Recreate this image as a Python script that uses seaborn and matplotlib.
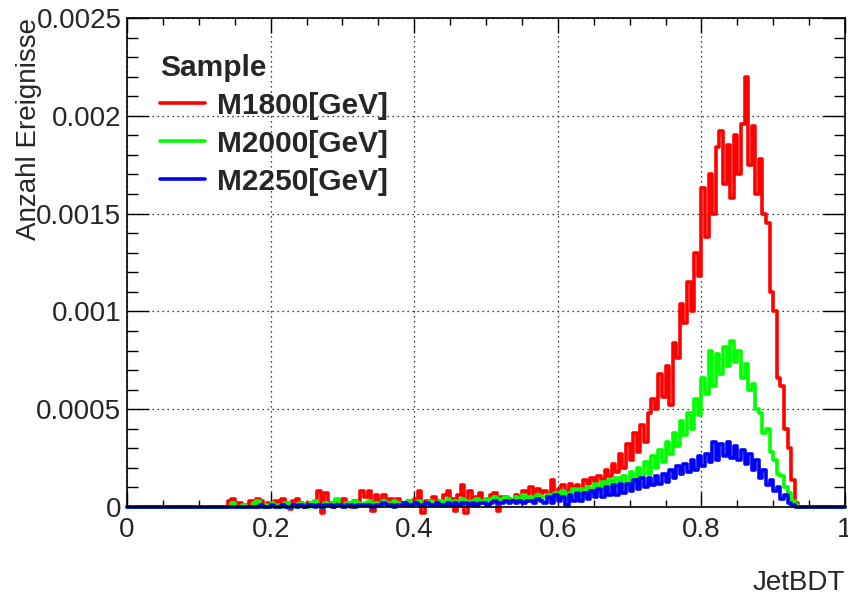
import numpy as np
import pandas as pd
import matplotlib
matplotlib.use("Agg")
import matplotlib.pyplot as plt
from matplotlib.ticker import MultipleLocator, FuncFormatter
import seaborn as sns

# JetBDT histogram, 200 bins from 0 to 1; values below in units of 1e-5
# only bins 0.13 .. 0.93 are filled, the rest are empty
n_bins = 200
first_bin = 26

m1800 = [
    0, 0, 3, 4, 0, 2, 0, 1, 3, 0,
    4, 3, 0, 2, 1, 3, 0, 4, 2, -1,
    3, 4, 2, 0, 2, 1, 3, 8, -3, 7,
    2, 0, 3, 1, 4, 2, 0, 3, 1, 8,
    5, 8, -2, 6, 3, 6, 2, 4, 3, 4,
    2, 1, 3, 2, 4, 8, -3, 3, 2, 5,
    3, 2, 6, 8, 4, -2, 6, 11, -3, 8,
    3, 5, 7, 2, 4, 6, 7, -2, 5, 5,
    4, 3, 6, 5, 8, 4, 10, 6, 9, 7,
    8, 5, 14, 7, 9, 11, 8, 12, 10, 11,
    9, 14, 12, 15, 13, 16, 14, 19, 16, 22,
    18, 27, 20, 32, 24, 38, 28, 42, 33, 48,
    55, 50, 68, 56, 72, 52, 84, 76, 104, 94,
    115, 100, 130, 118, 163, 138, 170, 150, 184, 192,
    165, 185, 158, 190, 170, 196, 220, 175, 195, 160,
    178, 150, 145, 110, 100, 66, 62, 40, 30, 14,
    2,
]

m2000 = [
    0, 0, 0, 2, 0, 0, 1, 0, 0, 2,
    3, 0, 1, 0, 2, 0, 1, 0, 2, 0,
    1, 0, 2, 1, 0, 2, 3, 1, 0, 2,
    1, 2, 4, 1, 0, 2, 1, 3, 2, 1,
    2, 3, 1, 2, 1, 3, 2, 1, 3, 2,
    1, 2, 3, 1, 2, 3, 1, 2, 3, 2,
    2, 3, 2, 4, 2, 3, 2, 4, 3, 2,
    3, 4, 2, 3, 4, 3, 5, 3, 4, 5,
    4, 3, 5, 4, 6, 3, 5, 4, 6, 5,
    5, 6, 4, 7, 5, 8, 4, 7, 9, 5,
    9, 5, 10, 7, 12, 8, 13, 9, 14, 10,
    15, 10, 16, 12, 18, 13, 20, 15, 23, 17,
    26, 20, 29, 23, 33, 27, 38, 31, 44, 37,
    48, 40, 55, 47, 66, 58, 80, 62, 78, 68,
    82, 72, 85, 74, 80, 66, 73, 60, 63, 50,
    48, 38, 40, 28, 24, 17, 16, 10, 7, 3,
    1,
]

m2250 = [
    0, 0, 0, 0, 0, 0, 0, 0, 0, 0,
    0, 1, 0, 0, 1, 0, 0, 1, 0, 0,
    1, 0, 1, 0, 1, 1, 0, 1, 0, 1,
    1, 0, 1, 1, 0, 1, 1, 0, 1, 1,
    1, 1, 0, 1, 1, 2, 1, 1, 0, 1,
    1, 2, 1, 1, 2, 1, 1, 2, 1, 1,
    2, 1, 1, 2, 1, 2, 1, 2, 2, 1,
    2, 1, 2, 2, 1, 2, 3, 2, 2, 3,
    2, 3, 2, 3, 2, 3, 3, 2, 4, 3,
    2, 5, 2, 6, 3, 5, 1, 6, 3, 7,
    3, 7, 4, 8, 5, 9, 5, 10, 6, 11,
    6, 12, 7, 12, 8, 14, 9, 15, 10, 15,
    11, 16, 12, 17, 13, 19, 15, 21, 17, 22,
    18, 24, 19, 26, 21, 27, 23, 33, 24, 32,
    26, 33, 25, 31, 24, 29, 22, 27, 19, 24,
    15, 19, 11, 14, 8, 10, 4, 6, 2, 1,
    0,
]

samples = ["M1800[GeV]", "M2000[GeV]", "M2250[GeV]"]
colors = ["#ff0000", "#00ff00", "#0000ff"]

edges = np.linspace(0, 1, n_bins + 1)

frames = []
for name, vals in zip(samples, [m1800, m2000, m2250]):
    h = np.zeros(n_bins)
    h[first_bin:first_bin + len(vals)] = np.array(vals) * 1e-5
    y = np.append(h, h[-1])
    frames.append(pd.DataFrame({"JetBDT": edges, "Anzahl": y, "Sample": name}))
df = pd.concat(frames, ignore_index=True)

sns.set_style("ticks")
plt.rcParams["font.family"] = ["Liberation Sans", "DejaVu Sans"]

fig = plt.figure(figsize=(8.48, 5.94), dpi=100)
ax = fig.add_axes([0.1498, 0.1465, 0.8467, 0.8232])

sns.lineplot(data=df, x="JetBDT", y="Anzahl", hue="Sample", palette=colors,
             estimator=None, drawstyle="steps-post", linewidth=2.6,
             clip_on=False, ax=ax)

ax.set_xlim(0, 1)
ax.set_ylim(0, 0.0025)
ax.xaxis.set_major_locator(MultipleLocator(0.2))
ax.xaxis.set_minor_locator(MultipleLocator(0.05))
ax.yaxis.set_major_locator(MultipleLocator(0.0005))
ax.yaxis.set_minor_locator(MultipleLocator(0.0001))
fmt = FuncFormatter(lambda v, p: "%g" % round(v, 6))
ax.xaxis.set_major_formatter(fmt)
ax.yaxis.set_major_formatter(fmt)

ax.grid(True, which="major", color="black", linestyle=(0, (1, 3)), linewidth=0.9)
ax.tick_params(which="both", direction="in", top=True, right=True,
               labelsize=20, width=1, color="black")
ax.xaxis.set_tick_params(which="major", length=11, pad=7)
ax.xaxis.set_tick_params(which="minor", length=5)
ax.yaxis.set_tick_params(which="major", length=16, pad=4)
ax.yaxis.set_tick_params(which="minor", length=8)
for s in ax.spines.values():
    s.set_linewidth(1.2)
    s.set_color("black")

ax.set_xlabel("JetBDT", fontsize=20, loc="right", labelpad=20)
ax.set_ylabel("Anzahl Ereignisse", fontsize=20, loc="top", labelpad=-4)

handles, labels = ax.get_legend_handles_labels()
leg = ax.legend(handles, labels, title="Sample", loc="upper left",
                bbox_to_anchor=(160 / 848, 1 - 54 / 594),
                bbox_transform=fig.transFigure, frameon=False,
                prop={"weight": "bold", "size": 21.5},
                title_fontproperties={"weight": "bold", "size": 21.5},
                alignment="left", handlelength=1.5, handletextpad=0.4,
                labelspacing=0.33, borderpad=0, borderaxespad=0)
for line in leg.get_lines():
    line.set_linewidth(2.6)

fig.savefig("out.png", dpi=100)
